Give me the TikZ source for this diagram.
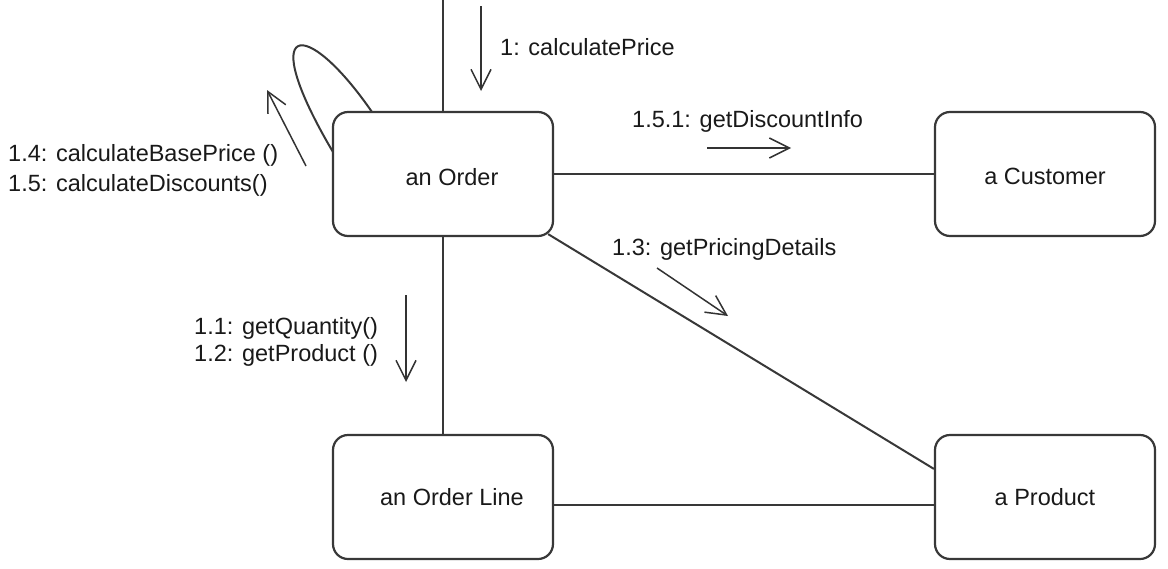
\documentclass[tikz,border=0pt]{standalone}
\usepackage{fontspec}
\setmainfont{Liberation Sans}
\usetikzlibrary{arrows.meta,calc}
\begin{document}
\begin{tikzpicture}[x=1pt,y=-1pt,
  objbox/.style={draw=black!78, line width=2.2pt, rounded corners=15pt,
    minimum width=220pt, minimum height=124pt, inner sep=0pt},
  objtext/.style={font=\fontsize{23.5}{28}\selectfont, text=black!90},
  link/.style={draw=black!78, line width=2pt},
  msg/.style={draw=black!80, line width=1.5pt,
    -{Straight Barb[length=20pt,width=20pt,line width=1.5pt]}},
  msgtext/.style={font=\fontsize{23.5}{28}\selectfont, text=black!90,
    inner sep=0pt, anchor=base west}]
\useasboundingbox (0,0) rectangle (1168,568);

% objects
\node[objbox, label={[objtext, xshift=9pt, yshift=-3pt]center:an Order}] (order) at (443,174) {};
\node[objbox, label={[objtext, yshift=-2pt]center:a Customer}] (customer) at (1045,174) {};
\node[objbox, label={[objtext, xshift=9pt]center:an Order Line}] (orderline) at (443,497) {};
\node[objbox, label={[objtext]center:a Product}] (product) at (1045,497) {};

% links
\coordinate (top) at (443,0);
\draw[link] (top) -- (order.north);
\draw[link] (order.east) -- (customer.west);
\draw[link] (order.south) -- (orderline.north);
\draw[link] ([yshift=-8pt]orderline.east) -- ([yshift=-8pt]product.west);
\draw[link] ($(order.south east)+(-6,-3)$) -- ($(product.north west)+(0,35)$);

% self link
\coordinate (loopA) at (372,112);
\coordinate (loopB) at (333,152);
\draw[link] (loopA) .. controls (305,15) and (255,20) .. (loopB);

% messages
\coordinate (m1s) at (481,6);   \coordinate (m1e) at (481,91);
\draw[msg] (m1s) -- (m1e);
\node[msgtext] (m1) at (500,55) {1: calculatePrice};

\coordinate (m151s) at (707,148); \coordinate (m151e) at (791,148);
\draw[msg] (m151s) -- (m151e);
\node[msgtext] (m151) at (632,127) {1.5.1: getDiscountInfo};

\coordinate (m13s) at (657,268); \coordinate (m13e) at (728,316);
\draw[msg] (m13s) -- (m13e);
\node[msgtext] (m13) at (612,255) {1.3: getPricingDetails};

\coordinate (m11s) at (406,295); \coordinate (m11e) at (406,382);
\draw[msg] (m11s) -- (m11e);
\node[msgtext] (m11) at (194,334) {1.1: getQuantity()};
\node[msgtext] (m12) at (194,361) {1.2: getProduct ()};

\coordinate (m14s) at (306,166); \coordinate (m14e) at (267,90);
\draw[msg] (m14s) -- (m14e);
\node[msgtext] (m14) at (8,161) {1.4: calculateBasePrice ()};
\node[msgtext] (m15) at (8,191) {1.5: calculateDiscounts()};
\end{tikzpicture}
\end{document}
